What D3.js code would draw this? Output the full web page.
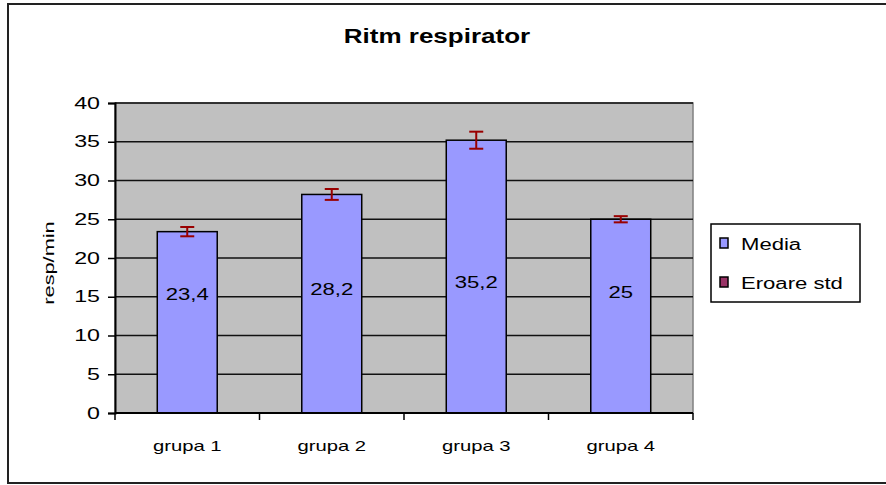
<!DOCTYPE html>
<html>
<head>
  <meta charset="UTF-8" />
  <title>Ritm respirator</title>
  <script src="https://cdn.jsdelivr.net/npm/d3@7/dist/d3.min.js"></script>
  <style>
    body { margin: 0; background: #fff; }
    text { font-family: "Liberation Sans", Arial, sans-serif; fill: #000; }
  </style>
</head>
<body>
  <svg width="886" height="485"></svg>
  <script>
    // data
    var groups = ["grupa 1", "grupa 2", "grupa 3", "grupa 4"];
    var media = [23.4, 28.2, 35.2, 25];
    var eroare = [0.6, 0.7, 1.1, 0.4];
    var labels = ["23,4", "28,2", "35,2", "25"];
    var yTicks = [0, 5, 10, 15, 20, 25, 30, 35, 40];
    var legendItems = ["Media", "Eroare std"];

    var svg = d3.select("svg");
    var plot = { left: 115, right: 693, top: 103, bottom: 413 };

    // widen text like the original bitmap fonts
    function stretch(sel, k) {
      sel.each(function () {
        var w = this.getComputedTextLength();
        d3.select(this)
          .attr("textLength", w * k)
          .attr("lengthAdjust", "spacingAndGlyphs");
      });
    }

    // outer frame
    svg.append("rect")
      .attr("x", 8).attr("y", 4)
      .attr("width", 886).attr("height", 479)
      .attr("fill", "#fff")
      .attr("stroke", "#222")
      .attr("stroke-width", 2);

    var x = d3.scaleBand()
      .domain(groups)
      .range([plot.left, plot.right])
      .paddingInner(0.585)
      .paddingOuter(0.2925);

    var y = d3.scaleLinear()
      .domain([0, 40])
      .range([plot.bottom, plot.top]);

    // plot area
    svg.append("rect")
      .attr("x", plot.left).attr("y", plot.top)
      .attr("width", plot.right - plot.left)
      .attr("height", plot.bottom - plot.top)
      .attr("fill", "#c0c0c0")
      .attr("stroke", "#808080")
      .attr("stroke-width", 1.5);

    // gridlines
    svg.append("g")
      .selectAll("line")
      .data(yTicks.slice(1))
      .enter()
      .append("line")
      .attr("x1", plot.left).attr("x2", plot.right)
      .attr("y1", function (d) { return y(d); })
      .attr("y2", function (d) { return y(d); })
      .attr("stroke", "#111")
      .attr("stroke-width", 1.5);

    // bars
    svg.append("g")
      .selectAll("rect")
      .data(media)
      .enter()
      .append("rect")
      .attr("x", function (d, i) { return x(groups[i]); })
      .attr("y", function (d) { return y(d); })
      .attr("width", x.bandwidth())
      .attr("height", function (d) { return y(0) - y(d); })
      .attr("fill", "#9999ff")
      .attr("stroke", "#000")
      .attr("stroke-width", 1.5);

    // error bars
    var err = svg.append("g")
      .selectAll("g")
      .data(media)
      .enter()
      .append("g")
      .attr("stroke", "#990000")
      .attr("stroke-width", 2);
    err.append("line")
      .attr("x1", function (d, i) { return x(groups[i]) + x.bandwidth() / 2; })
      .attr("x2", function (d, i) { return x(groups[i]) + x.bandwidth() / 2; })
      .attr("y1", function (d, i) { return y(d - eroare[i]); })
      .attr("y2", function (d, i) { return y(d + eroare[i]); });
    err.append("line")
      .attr("x1", function (d, i) { return x(groups[i]) + x.bandwidth() / 2 - 7; })
      .attr("x2", function (d, i) { return x(groups[i]) + x.bandwidth() / 2 + 7; })
      .attr("y1", function (d, i) { return y(d + eroare[i]); })
      .attr("y2", function (d, i) { return y(d + eroare[i]); });
    err.append("line")
      .attr("x1", function (d, i) { return x(groups[i]) + x.bandwidth() / 2 - 7; })
      .attr("x2", function (d, i) { return x(groups[i]) + x.bandwidth() / 2 + 7; })
      .attr("y1", function (d, i) { return y(d - eroare[i]); })
      .attr("y2", function (d, i) { return y(d - eroare[i]); });

    // value labels (sit a bit higher on taller bars)
    var vals = svg.append("g")
      .selectAll("text")
      .data(labels)
      .enter()
      .append("text")
      .attr("x", function (d, i) { return x(groups[i]) + x.bandwidth() / 2; })
      .attr("y", function (d, i) { return y(11.6 + media[i] * 0.13); })
      .attr("text-anchor", "middle")
      .attr("font-size", 16)
      .text(function (d) { return d; });
    stretch(vals, 1.38);

    // y axis
    var yAxis = svg.append("g")
      .attr("transform", "translate(" + plot.left + ",0)")
      .call(d3.axisLeft(y).tickValues(yTicks).tickSize(7).tickPadding(8));
    yAxis.select(".domain").attr("stroke", "#000").attr("stroke-width", 2);
    yAxis.selectAll(".tick line").attr("stroke", "#000").attr("stroke-width", 1.5);
    yAxis.selectAll(".tick text")
      .attr("font-size", 16)
      .attr("font-family", "Liberation Sans, Arial, sans-serif")
      .attr("fill", "#000");
    stretch(yAxis.selectAll(".tick text"), 1.45);

    // x axis
    var xAxis = svg.append("g")
      .attr("transform", "translate(0," + plot.bottom + ")");
    xAxis.append("line")
      .attr("x1", plot.left).attr("x2", plot.right)
      .attr("stroke", "#000").attr("stroke-width", 2);
    xAxis.selectAll(".sep")
      .data(d3.range(groups.length + 1))
      .enter()
      .append("line")
      .attr("class", "sep")
      .attr("x1", function (d) { return plot.left + d * x.step(); })
      .attr("x2", function (d) { return plot.left + d * x.step(); })
      .attr("y1", 0).attr("y2", 7)
      .attr("stroke", "#000").attr("stroke-width", 1.5);
    var xl = xAxis.selectAll(".lbl")
      .data(groups)
      .enter()
      .append("text")
      .attr("class", "lbl")
      .attr("x", function (d) { return x(d) + x.bandwidth() / 2; })
      .attr("y", 38)
      .attr("text-anchor", "middle")
      .attr("font-size", 15)
      .text(function (d) { return d; });
    stretch(xl, 1.35);

    // y axis title
    var yt = svg.append("text")
      .attr("transform", "translate(54,263) rotate(-90)")
      .attr("text-anchor", "middle")
      .attr("font-size", 15)
      .text("resp/min");
    stretch(yt, 1.45);

    // title
    var title = svg.append("text")
      .attr("x", 437).attr("y", 43)
      .attr("text-anchor", "middle")
      .attr("font-size", 20)
      .attr("font-weight", "bold")
      .text("Ritm respirator");
    stretch(title, 1.3);

    // legend
    var legend = svg.append("g").attr("transform", "translate(711,224)");
    legend.append("rect")
      .attr("width", 149).attr("height", 78)
      .attr("fill", "#fff")
      .attr("stroke", "#000")
      .attr("stroke-width", 1.5);
    var li = legend.selectAll(".item")
      .data(legendItems)
      .enter()
      .append("g")
      .attr("class", "item")
      .attr("transform", function (d, i) { return "translate(0," + (i * 39) + ")"; });
    li.append("rect")
      .attr("x", 9).attr("y", 14)
      .attr("width", 8).attr("height", 10)
      .attr("fill", function (d, i) { return i === 0 ? "#9999ff" : "#993366"; })
      .attr("stroke", "#000")
      .attr("stroke-width", 1.5);
    var lt = li.append("text")
      .attr("x", 30).attr("y", 26)
      .attr("font-size", 16)
      .text(function (d) { return d; });
    stretch(lt, 1.38);
  </script>
</body>
</html>
